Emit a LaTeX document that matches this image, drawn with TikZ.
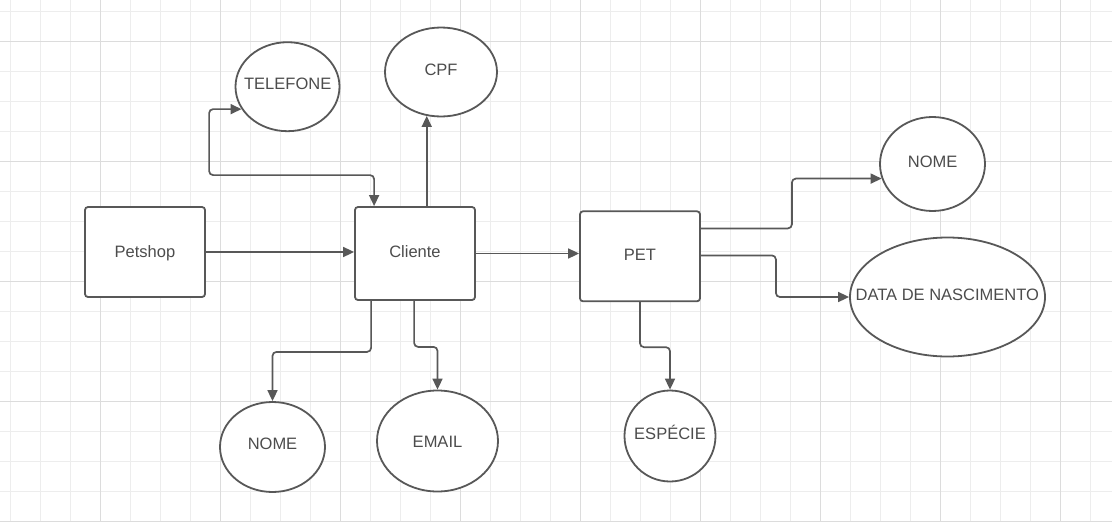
\documentclass[tikz,border=0pt]{standalone}
\usepackage{fontspec}
\setmainfont{Liberation Sans}
\usetikzlibrary{arrows.meta,shapes.geometric,calc}
\definecolor{stroke}{HTML}{585858}
\definecolor{txt}{HTML}{4C4C4C}
\definecolor{gridminor}{HTML}{EDEDED}
\definecolor{gridmajor}{HTML}{DCDCDC}
\tikzset{
  box/.style={draw=stroke, line width=1.8pt, rounded corners=3pt, fill=white, inner sep=0pt},
  oval/.style={draw=stroke, line width=1.8pt, ellipse, fill=white, inner sep=0pt},
  lbl/.style={anchor=base, text=txt, font=\fontsize{16.5pt}{18pt}\selectfont, inner sep=0pt},
  conn/.style={draw=stroke, line width=1.7pt, rounded corners=4pt, -{Triangle[length=11pt,width=10pt]}},
  conn2/.style={draw=stroke, line width=1.7pt, rounded corners=4pt, {Triangle[length=11pt,width=10pt]}-{Triangle[length=11pt,width=10pt]}}
}
\begin{document}
\begin{tikzpicture}[x=1pt,y=-1pt]
\useasboundingbox (0,0) rectangle (1112,522);
\fill[white] (0,0) rectangle (1112,522);
% grid
\foreach \x in {10,40,...,1110} \draw[gridminor, line width=1pt] (\x,0) -- (\x,522);
\foreach \y in {11.7,41.7,...,521.7} \draw[gridminor, line width=1pt] (0,\y) -- (1112,\y);
\foreach \x in {100,220,...,1100} \draw[gridmajor, line width=1pt] (\x,0) -- (\x,522);
\foreach \y in {41.7,161.7,281.7,401.7,521.7} \draw[gridmajor, line width=1pt] (0,\y) -- (1112,\y);

% boxes
\node[box, minimum width=120pt, minimum height=90pt] (ps) at (145,252) {};
\node[box, minimum width=120pt, minimum height=93pt] (cli) at (415,253.5) {};
\node[box, minimum width=120pt, minimum height=90pt] (pet) at (640,256.3) {};

% ellipses
\node[oval, minimum width=104pt, minimum height=89pt] (tel) at (287.5,86.7) {};
\node[oval, minimum width=112pt, minimum height=89pt] (cpf) at (441,72) {};
\node[oval, minimum width=105pt, minimum height=94pt] (nr) at (932.5,164) {};
\node[oval, minimum width=195pt, minimum height=119pt] (dt) at (947.5,297) {};
\node[oval, minimum width=105pt, minimum height=90pt] (nb) at (272.5,447) {};
\node[oval, minimum width=121pt, minimum height=101pt] (em) at (437.5,441) {};
\node[oval, minimum width=91pt, minimum height=91pt] (esp) at (670,436) {};

% labels
\node[lbl] (tps) at (145,257.3) {Petshop};
\node[lbl] (tcli) at (415,257.8) {Cliente};
\node[lbl] (tpet) at (640,260.8) {PET};
\node[lbl] (ttel) at (287.7,89.8) {TELEFONE};
\node[lbl] (tcpf) at (441,75.1) {CPF};
\node[lbl] (tnr) at (932.7,167.5) {NOME};
\node[lbl] (tdt) at (947.3,300.1) {DATA DE NASCIMENTO};
\node[lbl] (tnb) at (272.5,449.8) {NOME};
\node[lbl] (tem) at (437.5,447.5) {EMAIL};
\node[lbl] (tesp) at (670,439.8) {ESPÉCIE};

% connectors
\draw[conn] (ps.east) -- (ps.east -| cli.west);
\draw[conn] (cli.east) -- (cli.east -| pet.west);
\draw[conn] (cli.north -| cpf.252) -- (cpf.252);
\draw[conn2] ($(cli.north west)+(20,0)$) -- ++(0,-31) -- ++(-165,0) |- (tel.206);
\draw[conn] ($(cli.south west)+(17,0)$) -- ++(0,51) -| (nb.north);
\draw[conn] ($(cli.south west)+(60,0)$) -- ++(0,46) -| (em.north);
\draw[conn] (pet.south) -- ++(0,45) -| (esp.north);
\draw[conn] ($(pet.north east)+(0,18)$) -- ++(91,0) |- (nr.196.6);
\draw[conn] ($(pet.north east)+(0,45)$) -- ++(75,0) |- (dt.west);
\end{tikzpicture}
\end{document}
